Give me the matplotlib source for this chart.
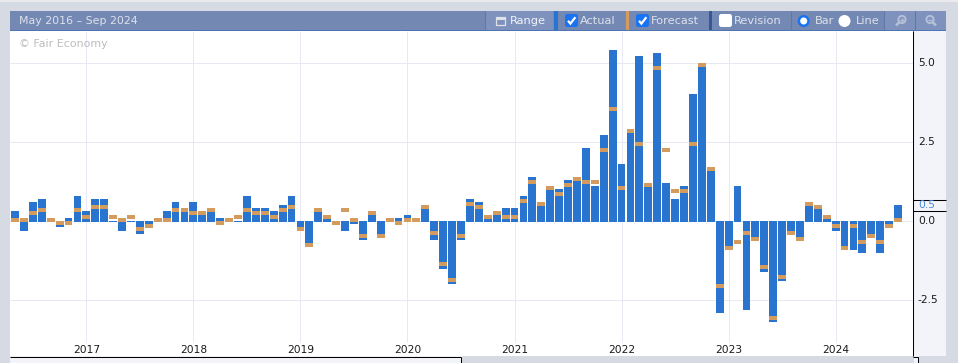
import matplotlib
matplotlib.use('Agg')
import matplotlib.pyplot as plt
from matplotlib.patches import Rectangle, FancyBboxPatch, Circle

# Datos, de mayo 2016 a agosto 2024
actual = [0.3, -0.3, 0.6, 0.7, 0.0, -0.2, 0.1, 0.8, 0.3, 0.7, 0.7, 0.0,
          -0.3, 0.0, -0.4, -0.1, 0.0, 0.3, 0.6, 0.4, 0.6, 0.3, 0.4, 0.1,
          0.0, 0.0, 0.8, 0.4, 0.4, 0.3, 0.5, 0.8, -0.2, -0.7, 0.3, 0.1,
          0.0, -0.3, -0.1, -0.6, 0.2, -0.4, 0.0, 0.1, 0.2, 0.0, 0.4, -0.6,
          -1.5, -2.0, -0.6, 0.7, 0.6, 0.1, 0.2, 0.4, 0.4, 0.8, 1.4, 0.5,
          1.0, 1.0, 1.3, 1.3, 2.3, 1.1, 2.7, 5.4, 1.8, 2.8, 5.2, 1.1,
          5.3, 1.2, 0.7, 1.1, 4.0, 4.9, 1.6, -2.9, -0.8, 1.1, -2.8, -0.5,
          -1.6, -3.2, -1.9, -0.3, -0.5, 0.5, 0.4, 0.1, -0.3, -0.8, -0.9, -1.0,
          -0.4, -1.0, -0.1, 0.5]
forecast = [0.1, 0.1, 0.3, 0.4, 0.1, 0.0, 0.0, 0.4, 0.2, 0.5, 0.5, 0.2,
            0.1, 0.2, -0.2, -0.1, 0.1, 0.1, 0.4, 0.4, 0.3, 0.3, 0.4, 0.0,
            0.1, 0.2, 0.4, 0.3, 0.3, 0.2, 0.4, 0.5, -0.2, -0.7, 0.4, 0.2,
            0.0, 0.4, 0.1, -0.4, 0.3, -0.4, 0.1, 0.0, 0.1, 0.1, 0.5, -0.3,
            -1.3, -1.8, -0.4, 0.6, 0.5, 0.2, 0.3, 0.2, 0.2, 0.7, 1.3, 0.6,
            1.1, 0.9, 1.2, 1.4, 1.3, 1.3, 2.3, 3.6, 1.1, 2.9, 2.5, 1.2,
            4.9, 2.3, 1.0, 1.0, 2.5, 5.0, 1.7, -2.0, -0.8, -0.6, -0.3, -0.5,
            -1.4, -3.0, -1.7, -0.3, -0.5, 0.6, 0.5, 0.2, -0.1, -0.8, -0.1, -0.6,
            -0.4, -0.6, -0.1, 0.1]
years = [2017, 2018, 2019, 2020, 2021, 2022, 2023, 2024]
y_ticks = [5.0, 2.5, 0.0, -2.5]

AZUL = '#2874cf'
NARANJA = '#d49b5e'
GRIS = '#d6dae3'
BARRA = '#7488b4'
BOTON = '#7e92bd'
PANEL = '#f3f4f9'
REJILLA = '#e8e8f2'
TEXTO_BARRA = '#dde1ea'
ICONO = '#b4bfd8'

plt.rcParams['font.family'] = 'DejaVu Sans'

fig = plt.figure(figsize=(9.58, 3.63), dpi=100, facecolor=GRIS)

# Capa de fondo en pixeles: barra de herramientas y paneles
bg = fig.add_axes([0, 0, 1, 1])
bg.set_xlim(0, 958)
bg.set_ylim(363, 0)
bg.axis('off')


def rect(x0, y0, x1, y1, color, z=1):
    bg.add_patch(Rectangle((x0, y0), x1 - x0, y1 - y0, facecolor=color, edgecolor='none', zorder=z))


def linea(xs, ys, color='black', lw=0.75, z=3):
    bg.plot(xs, ys, color=color, lw=lw, zorder=z, solid_capstyle='butt', solid_joinstyle='miter')


def check(x, y, marcado=True):
    color = '#1a73f0' if marcado else 'white'
    bg.add_patch(FancyBboxPatch((x + 0.5, y + 0.5), 12, 12, boxstyle='round,pad=0,rounding_size=2',
                                facecolor=color, edgecolor=color, lw=0.7, zorder=4))
    if marcado:
        linea([x + 3, x + 5.4, x + 10.4], [y + 6.8, y + 9.6, y + 3.2], color='white', lw=1.6, z=5)


rect(0, 0, 958, 1.5, '#e9e9ee')
rect(10, 11, 946, 30, BARRA)
rect(10, 30, 946, 31, '#4f74b3')
rect(914, 31, 946, 356, PANEL)
rect(10, 356, 462, 363, PANEL)
rect(914, 356, 919, 363, PANEL)

# botones
rect(486, 11, 553, 30, BOTON)
rect(885, 11, 915, 30, BOTON)
rect(916, 11, 946, 30, BOTON)
rect(554, 11, 558, 30, AZUL)
rect(626, 11, 629, 30, NARANJA)
rect(709, 11, 712, 30, '#34589a')
for xs in [485.5, 791.5, 884.5, 915.5]:
    linea([xs, xs], [11, 30], color='#5f78ad', lw=0.8)

# icono de calendario
bg.add_patch(Rectangle((496, 17), 9, 8, facecolor='none', edgecolor=TEXTO_BARRA, lw=0.9, zorder=4))
rect(496, 18, 505, 20, TEXTO_BARRA, 4)
bg.text(510, 21, 'Range', color='#f2f4f8', fontsize=8.2, va='center', zorder=4)

check(565, 14)
bg.text(580, 21, 'Actual', color=TEXTO_BARRA, fontsize=8.2, va='center', zorder=4)
check(636, 14)
bg.text(651, 21, 'Forecast', color=TEXTO_BARRA, fontsize=8.2, va='center', zorder=4)
check(719, 14, False)
bg.text(734, 21, 'Revision', color=TEXTO_BARRA, fontsize=8.2, va='center', zorder=4)

bg.add_patch(Circle((803.7, 21), 4.8, facecolor='white', edgecolor='#1a73f0', lw=1.8, zorder=4))
bg.text(815, 21, 'Bar', color=TEXTO_BARRA, fontsize=8.2, va='center', zorder=4)
bg.add_patch(Circle((844.5, 21), 6, facecolor='white', edgecolor='none', zorder=4))
bg.text(856, 21, 'Line', color=TEXTO_BARRA, fontsize=8.2, va='center', zorder=4)

# lupas: la de acercar con el mango a la izquierda, la de alejar a la derecha
bg.add_patch(Circle((902, 19.5), 3.6, facecolor='none', edgecolor=ICONO, lw=1.4, zorder=4))
linea([899.5, 896], [22, 25.5], color=ICONO, lw=1.9, z=4)
linea([900, 904], [19.5, 19.5], color=ICONO, lw=1, z=4)
linea([902, 902], [17.5, 21.5], color=ICONO, lw=1, z=4)
bg.add_patch(Circle((930, 19.5), 3.6, facecolor='none', edgecolor=ICONO, lw=1.4, zorder=4))
linea([932.5, 936], [22, 25.5], color=ICONO, lw=1.9, z=4)
linea([928, 932], [19.5, 19.5], color=ICONO, lw=1, z=4)

bg.text(19, 21, 'May 2016 – Sep 2024', color=TEXTO_BARRA, fontsize=7.9, va='center', zorder=4)

# Grafica principal: 31.7 px por unidad, 8.92 px por mes
ax = fig.add_axes([10 / 958, 1 - 356 / 363, 903 / 958, 325 / 363], facecolor='white')
ax.set_xlim((10 - 15) / 8.92, (913 - 15) / 8.92)
ax.set_ylim((221 - 356) / 31.7, (221 - 31) / 31.7)
for s in ax.spines.values():
    s.set_visible(False)

months = list(range(len(actual)))
year_pos = [8 + 12 * k for k in range(len(years))]

ax.hlines(y_ticks, ax.get_xlim()[0], ax.get_xlim()[1], color=REJILLA, lw=0.72, zorder=1)
ax.vlines(year_pos, (221 - 342) / 31.7, ax.get_ylim()[1], color=REJILLA, lw=0.72, zorder=1)

ancho = 0.875
ax.bar(months, actual, width=ancho, color=AZUL, linewidth=0, zorder=2)
# fila de un pixel bajo el cero en todas las columnas
ax.bar(months, [1 / 31.7] * len(months), bottom=-1 / 31.7, width=ancho, color=AZUL, linewidth=0, zorder=2)
alto = 4 / 31.7
ax.bar(months, [alto] * len(months), bottom=[f - alto for f in forecast], width=ancho,
       color=NARANJA, linewidth=0, zorder=3)

ax.set_xticks(year_pos)
ax.set_xticklabels(years)
ax.set_yticks([])
ax.tick_params(axis='x', length=0, pad=-8, labelsize=7.7, colors='#1a1a1a')
ax.text(0.0105, 0.96, '© Fair Economy', transform=ax.transAxes, color='#bcbcbc', fontsize=7.9,
        va='center', zorder=1.5)

# Escala derecha
for v in y_ticks:
    bg.text(918 if v >= 0 else 917, 221 - v * 31.7, f'{v:.1f}', color='#1a1a1a', fontsize=7.7, va='center', zorder=4)
rect(914, 200.5, 946, 210, PANEL, 2)
bg.text(918, 205, '0.5', color='#4a8ad8', fontsize=7.7, va='center', zorder=4)
linea([913, 946], [199.5, 199.5])
linea([913, 946], [210.5, 210.5])
linea([913.5, 913.5], [31, 356])
linea([10, 461.5], [356.5, 356.5])
linea([461.5, 461.5], [356.5, 363])
linea([913.5, 918.5, 918.5], [356.5, 356.5, 363])

fig.savefig('out.png', dpi=100, facecolor=fig.get_facecolor())
